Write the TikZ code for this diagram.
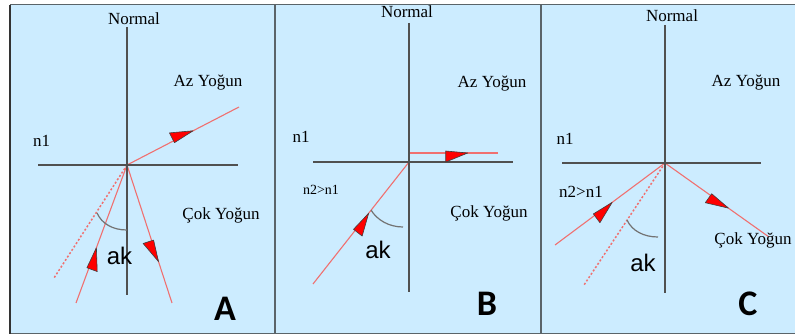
\documentclass[tikz,border=0pt]{standalone}
\usepackage{fontspec}
\setmainfont{Liberation Serif}
\newfontfamily\sansf{Liberation Sans}
\newfontfamily\carl{Carlito}
\usetikzlibrary{calc}
\definecolor{bgblue}{RGB}{204,236,255}
\definecolor{rayred}{RGB}{240,112,112}
\definecolor{axgray}{RGB}{80,80,80}
\definecolor{framegray}{RGB}{90,100,105}
\tikzset{
  axis/.style={draw=axgray,line width=1.3pt},
  ray/.style={draw=rayred,line width=1.1pt},
  dotray/.style={draw=rayred,line width=1.5pt,dash pattern=on 2pt off 2pt},
  anglearc/.style={draw=axgray!80,line width=1.2pt},
  arrfill/.style={fill=red,draw=black!75,line width=0.6pt,line join=round},
  lbl/.style={inner sep=0pt,anchor=base,font=\fontsize{17}{20}\selectfont},
  small/.style={inner sep=0pt,anchor=base,font=\fontsize{14}{16}\selectfont},
  aklbl/.style={inner sep=0pt,anchor=base,font=\sansf\fontsize{24}{28}\selectfont},
  letter/.style={inner sep=0pt,anchor=base,font=\carl\bfseries\fontsize{36}{40}\selectfont}
}
\newcommand\harr[4]{%
  \coordinate (tp) at ($(#1)!#3!(#2)$);
  \coordinate (bs) at ($(tp)!22pt!(#1)$);
  \path[arrfill] (tp) -- ($(bs)!2pt!-#4:(tp)$) -- ($(bs)!9pt!#4:(tp)$) -- cycle;
}
\begin{document}
\begin{tikzpicture}[x=1pt,y=-1pt]
\useasboundingbox (0,0) rectangle (795,336);
\fill[white] (0,0) rectangle (795,336);
\fill[bgblue] (10,5) rectangle (795,334);
\draw[framegray,line width=1pt] (10,5) -- (795,5);
\draw[framegray,line width=1pt] (10,334) -- (795,334);
\draw[black!80,line width=2pt] (10,5) -- (10,334);
\draw[framegray,line width=2.2pt] (275,5) -- (275,334);
\draw[framegray,line width=1.6pt] (541,5) -- (541,334);

% ---------- Panel A ----------
\coordinate (OA) at (127,165);
\coordinate (NAt) at (127,27);
\coordinate (NAb) at (127,295);
\coordinate (SAl) at (38,165);
\coordinate (SAr) at (238,165);
\coordinate (RAu) at (239,107);
\coordinate (IAs) at (76,303);
\coordinate (RAd) at (172,303);
\coordinate (DA) at (54,278);
\coordinate (ArcA1) at (97,213);
\coordinate (ArcA2) at (127,230);
\draw[dotray] (OA) -- (DA);
\draw[ray] (OA) -- (RAu);
\draw[ray] (IAs) -- (OA);
\draw[ray] (OA) -- (RAd);
\draw[axis] (NAt) -- (NAb);
\draw[axis] (SAl) -- (SAr);
\draw[anglearc] (ArcA1) .. controls (102,224) and (113,230) .. (ArcA2);
\harr{OA}{RAu}{0.59}{90}
\harr{IAs}{OA}{0.40}{-90}
\harr{OA}{RAd}{0.70}{-90}
\node[lbl] (normA) at (134,25) {Normal};
\node[lbl] (azA) at (208,87) {Az Yoğun};
\node[lbl] (n1A) at (41.5,147) {n1};
\node[lbl] (cokA) at (221,220) {Çok Yoğun};
\node[aklbl] (akA) at (119.5,265) {ak};
\node[letter] (labA) at (225,321) {A};

% ---------- Panel B ----------
\coordinate (OB) at (409,162);
\coordinate (NBt) at (409,23);
\coordinate (NBb) at (409,292);
\coordinate (SBl) at (313,162);
\coordinate (SBr) at (513,162);
\coordinate (GB1) at (409,153);
\coordinate (GB2) at (498,153);
\coordinate (IBs) at (313,284);
\coordinate (ArcB1) at (371,210);
\coordinate (ArcB2) at (403,227);
\draw[ray] (IBs) -- (OB);
\draw[ray] (OB) -- (GB1) -- (GB2);
\draw[axis] (NBt) -- (NBb);
\draw[axis] (SBl) -- (SBr);
\draw[anglearc] (ArcB1) .. controls (377,220) and (389,227) .. (ArcB2);
\harr{GB1}{GB2}{0.66}{-90}
\harr{IBs}{OB}{0.58}{-90}
\node[lbl] (normB) at (407,18) {Normal};
\node[lbl] (azB) at (492,88) {Az Yoğun};
\node[lbl] (n1B) at (301,143) {n1};
\node[small] (n2B) at (321,195) {n2>n1};
\node[lbl] (cokB) at (489,218) {Çok Yoğun};
\node[aklbl] (akB) at (378,259) {ak};
\node[letter] (labB) at (487,316) {B};

% ---------- Panel C ----------
\coordinate (OC) at (665,163);
\coordinate (NCt) at (665,25);
\coordinate (NCb) at (665,293);
\coordinate (SCl) at (562,163);
\coordinate (SCr) at (761,163);
\coordinate (ICs) at (555,245);
\coordinate (RCd) at (769,237);
\coordinate (DC) at (584,285);
\coordinate (ArcC1) at (627,220);
\coordinate (ArcC2) at (658,237);
\draw[dotray] (OC) -- (DC);
\draw[ray] (ICs) -- (OC);
\draw[ray] (OC) -- (RCd);
\draw[axis] (NCt) -- (NCb);
\draw[axis] (SCl) -- (SCr);
\draw[anglearc] (ArcC1) .. controls (632,231) and (644,237) .. (ArcC2);
\harr{ICs}{OC}{0.52}{-90}
\harr{OC}{RCd}{0.61}{-90}
\node[lbl] (normC) at (672,22) {Normal};
\node[lbl] (azC) at (746,87) {Az Yoğun};
\node[lbl] (n1C) at (565,145) {n1};
\node[lbl] (n2C) at (581,198) {n2>n1};
\node[lbl] (cokC) at (753,245) {Çok Yoğun};
\node[aklbl] (akC) at (643,272) {ak};
\node[letter] (labC) at (748,316) {C};
\end{tikzpicture}
\end{document}
